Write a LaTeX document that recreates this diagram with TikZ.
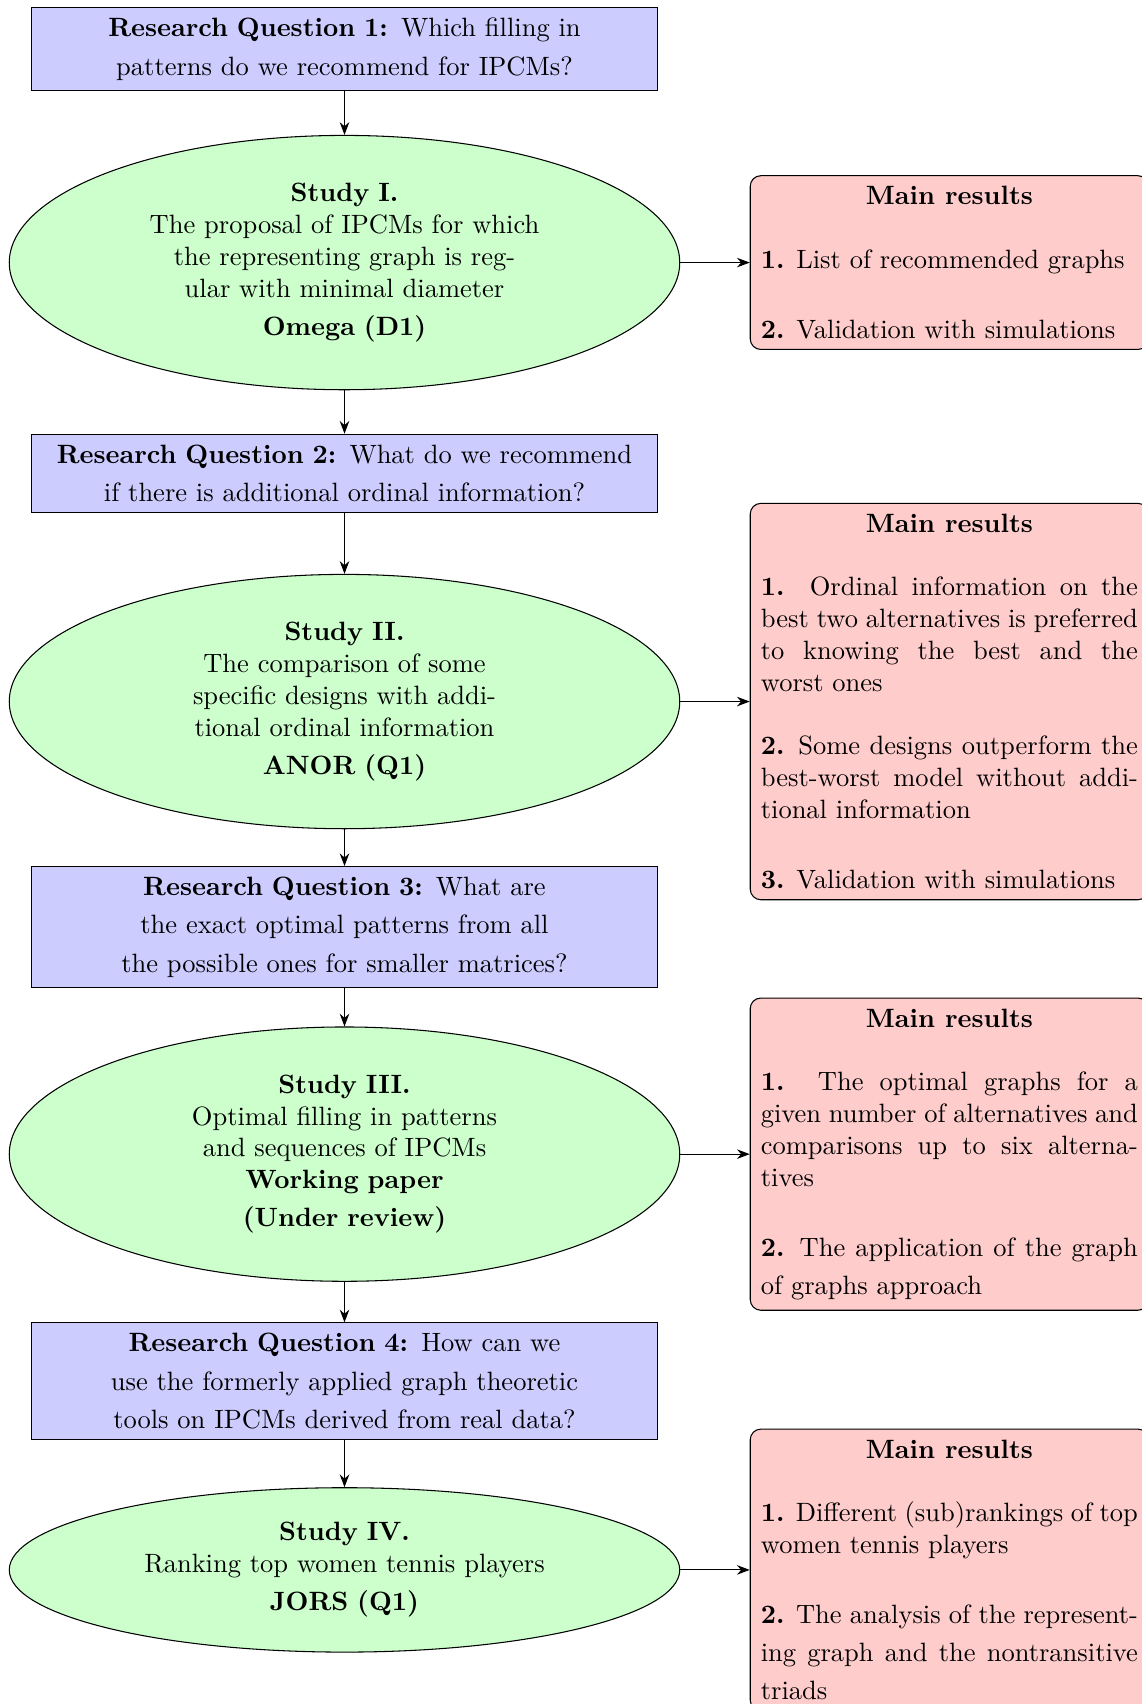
\documentclass[tikz,border=0pt]{standalone}
\usepackage{tikz}
\usetikzlibrary{arrows.meta,positioning,shapes.geometric}

\newcommand{\itemgap}{\par\vspace{\baselineskip}}
\newcommand{\lastpar}[1]{\itemgap{\baselineskip=14.4pt #1\par}}

\begin{document}
\begin{tikzpicture}[>=Stealth,inner sep=4pt,question/.style={draw,fill=blue!20,text width=228pt,align=center,font=\linespread{1.2}\selectfont},study/.style={draw,ellipse,fill=green!20,text width=160pt,align=center,minimum width=253pt},result/.style={draw,rounded corners,fill=red!20,text width=142.3pt,align=justify},arr/.style={->}]
\node[question] (rq1) {\textbf{Research Question 1:} Which filling in\\patterns do we recommend for IPCMs?};
\useasboundingbox ([shift={(-130pt,18.6pt)}]rq1.center) rectangle ++(430.6pt,-643pt);
\node[study,below=16.4pt of rq1] (s1) {\textbf{Study I.}\\The proposal of IPCMs for which the representing graph is regular with minimal diameter\\[2.4pt]\textbf{Omega (D1)}};
\node[result,right=26.2pt of s1] (res1) {\centerline{\textbf{Main results}}\vspace{\baselineskip}
\textbf{1.} List of recommended graphs
\lastpar{\textbf{2.} Validation with simulations}};
\draw[arr](rq1)--(s1);\draw[arr](s1)--(res1);
\node[question,below=16.4pt of s1] (rq2) {\textbf{Research Question 2:} What do we recommend\\if there is additional ordinal information?};
\node[study,below=23pt of rq2] (s2) {\textbf{Study II.}\\The comparison of some specific designs with additional ordinal information\\[2.4pt]\textbf{ANOR (Q1)}};
\node[result,right=26.2pt of s2] (res2) {\centerline{\textbf{Main results}}\vspace{\baselineskip}
\textbf{1.} Ordinal information on the best two alternatives is preferred to knowing the best and the worst ones\itemgap
\textbf{2.} Some designs outperform the best-worst model without additional information
\lastpar{\textbf{3.} Validation with simulations}};
\draw[arr](s1)--(rq2);\draw[arr](rq2)--(s2);\draw[arr](s2)--(res2);
\node[question,below=13.9pt of s2] (rq3) {\textbf{Research Question 3:} What are\\the exact optimal patterns from all\\the possible ones for smaller matrices?};
\node[study,below=14.4pt of rq3] (s3) {\textbf{Study III.}\\Optimal filling in patterns and sequences of IPCMs\\\textbf{Working paper}\\[2.4pt]\textbf{(Under review)}};
\node[result,right=26.2pt of s3] (res3) {\centerline{\textbf{Main results}}\vspace{\baselineskip}
\textbf{1.} The optimal graphs for a given number of alternatives and comparisons up to six alternatives
\lastpar{\textbf{2.} The application of the graph of graphs approach}};
\draw[arr](s2)--(rq3);\draw[arr](rq3)--(s3);\draw[arr](s3)--(res3);
\node[question,below=15.3pt of s3] (rq4) {\textbf{Research Question 4:} How can we\\use the formerly applied graph theoretic\\tools on IPCMs derived from real data?};
\node[study,below=17.8pt of rq4] (s4) {\textbf{Study IV.}\\Ranking top women tennis players\\[2.4pt]\textbf{JORS (Q1)}};
\node[result,right=26.2pt of s4] (res4) {\centerline{\textbf{Main results}}\vspace{\baselineskip}
\textbf{1.} Different (sub)rankings of top women tennis players
\lastpar{\textbf{2.} The analysis of the representing graph and the nontransitive triads}};
\draw[arr](s3)--(rq4);\draw[arr](rq4)--(s4);\draw[arr](s4)--(res4);
\end{tikzpicture}
\end{document}
